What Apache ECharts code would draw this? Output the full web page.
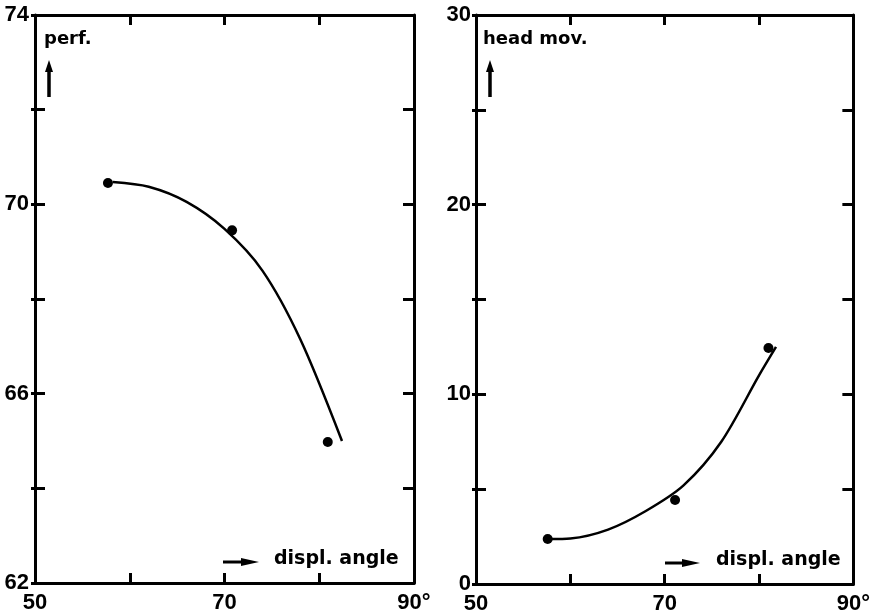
<!DOCTYPE html>
<html><head><meta charset="utf-8">
<script src="https://cdn.jsdelivr.net/npm/echarts@6/dist/echarts.min.js"></script>
<style>html,body{margin:0;padding:0;background:#fff}#c{width:873px;height:615px}</style>
</head><body><div id="c"></div>
<script>
// Left panel: performance vs displacement angle
var perfPoints = [[57.7, 70.45], [70.8, 69.45], [80.9, 64.98]];
var perfCurve = [[58.2, 70.47], [62, 70.37], [66, 70.05], [70, 69.48], [74, 68.6], [78, 67.15], [82.4, 65.0]];
// Right panel: head movement vs displacement angle
var headPoints = [[57.6, 2.37], [71.1, 4.43], [81.0, 12.44]];
var headCurve = [[57.8, 2.37], [60, 2.4], [64, 2.87], [68, 3.85], [72, 5.2], [76, 7.5], [80, 11.0], [81.8, 12.5]];
var xLabels = {50: '50', 70: '70', 90: '90°'};
var perfLabels = [62, 66, 70, 74];
var headLabels = [0, 10, 20, 30];

var FONT = 'DejaVu Sans';
var lab = {color: '#000', fontFamily: 'Liberation Sans', fontWeight: 'bold', fontSize: 22};
var lineStyle = {color: '#000', width: 3};

function xAxes(gi) {
  return [
    {gridIndex: gi, type: 'value', min: 50, max: 90, interval: 10, position: 'bottom',
     axisLine: {show: true, onZero: false, lineStyle: lineStyle},
     axisTick: {show: true, inside: true, length: 10, lineStyle: {color: '#000', width: 3}},
     axisLabel: Object.assign({margin: 9, formatter: function (v) { return xLabels[v] || ''; }}, lab),
     splitLine: {show: false}},
    {gridIndex: gi, type: 'value', min: 50, max: 90, interval: 10, position: 'top',
     axisLine: {show: true, onZero: false, lineStyle: lineStyle},
     axisTick: {show: true, inside: true, length: 10, lineStyle: {color: '#000', width: 3}},
     axisLabel: {show: false}, splitLine: {show: false}}
  ];
}
function yAxes(gi, min, max, iv, labels, margin) {
  return [
    {gridIndex: gi, type: 'value', min: min, max: max, interval: iv, position: 'left',
     axisLine: {show: true, onZero: false, lineStyle: lineStyle},
     axisTick: {show: true, inside: true, length: 10, lineStyle: {color: '#000', width: 3}},
     axisLabel: Object.assign({margin: margin, formatter: function (v) { return labels.indexOf(v) >= 0 ? String(v) : ''; }}, lab),
     splitLine: {show: false}},
    {gridIndex: gi, type: 'value', min: min, max: max, interval: iv, position: 'right',
     axisLine: {show: true, onZero: false, lineStyle: lineStyle},
     axisTick: {show: true, inside: true, length: 11, lineStyle: {color: '#000', width: 3}},
     axisLabel: {show: false}, splitLine: {show: false}},
    {gridIndex: gi, type: 'value', min: min, max: max, interval: iv, position: 'left', offset: 0,
     axisLine: {show: false, onZero: false},
     axisTick: {show: true, inside: false, length: 4, lineStyle: {color: '#000', width: 3}},
     axisLabel: {show: false}, splitLine: {show: false}}
  ];
}

var chart = echarts.init(document.getElementById('c'), null, {renderer: 'canvas'});
var txt = {fill: '#000', fontFamily: FONT, fontWeight: 'bold'};
function upArrow(x, y1, y2) {
  return [
    {type: 'line', shape: {x1: x, y1: y2, x2: x, y2: y1 + 8}, style: {stroke: '#000', lineWidth: 3.5}},
    {type: 'polygon', shape: {points: [[x, y1], [x - 4, y1 + 12], [x + 4, y1 + 12]]}, style: {fill: '#000'}}
  ];
}
function rightArrow(x1, x2, y) {
  return [
    {type: 'line', shape: {x1: x1, y1: y, x2: x2 - 10, y2: y}, style: {stroke: '#000', lineWidth: 3}},
    {type: 'polygon', shape: {points: [[x2, y], [x2 - 18, y - 4], [x2 - 18, y + 4]]}, style: {fill: '#000'}}
  ];
}
var graphics = [].concat(
  [{type: 'text', left: 44, top: 30, style: Object.assign({text: 'perf.', fontSize: 18}, txt)}],
  upArrow(49, 60, 97),
  rightArrow(223, 259, 562),
  [{type: 'text', left: 274, top: 550, style: Object.assign({text: 'displ. angle', fontSize: 19}, txt)}],
  [{type: 'text', left: 483, top: 30, style: Object.assign({text: 'head mov.', fontSize: 18}, txt)}],
  upArrow(490, 60, 97),
  rightArrow(665, 700, 563),
  [{type: 'text', left: 716, top: 551, style: Object.assign({text: 'displ. angle', fontSize: 19}, txt)}]
);

chart.setOption({
  animation: false,
  backgroundColor: '#fff',
  grid: [
    {left: 35, top: 15, width: 379, height: 568},
    {left: 476, top: 15, width: 378, height: 569}
  ],
  xAxis: [].concat(xAxes(0), xAxes(1)),
  yAxis: [].concat(yAxes(0, 62, 74, 2, perfLabels, 6), yAxes(1, 0, 30, 5, headLabels, 5)),
  graphic: graphics,
  series: [
    {type: 'line', xAxisIndex: 0, yAxisIndex: 0, data: perfCurve, smooth: 0.3, showSymbol: false,
     lineStyle: {color: '#000', width: 2.5}},
    {type: 'scatter', xAxisIndex: 0, yAxisIndex: 0, data: perfPoints, symbolSize: 10,
     itemStyle: {color: '#000', opacity: 1}},
    {type: 'line', xAxisIndex: 2, yAxisIndex: 3, data: headCurve, smooth: 0.3, showSymbol: false,
     lineStyle: {color: '#000', width: 2.5}},
    {type: 'scatter', xAxisIndex: 2, yAxisIndex: 3, data: headPoints, symbolSize: 10,
     itemStyle: {color: '#000', opacity: 1}}
  ]
});
</script></body></html>
